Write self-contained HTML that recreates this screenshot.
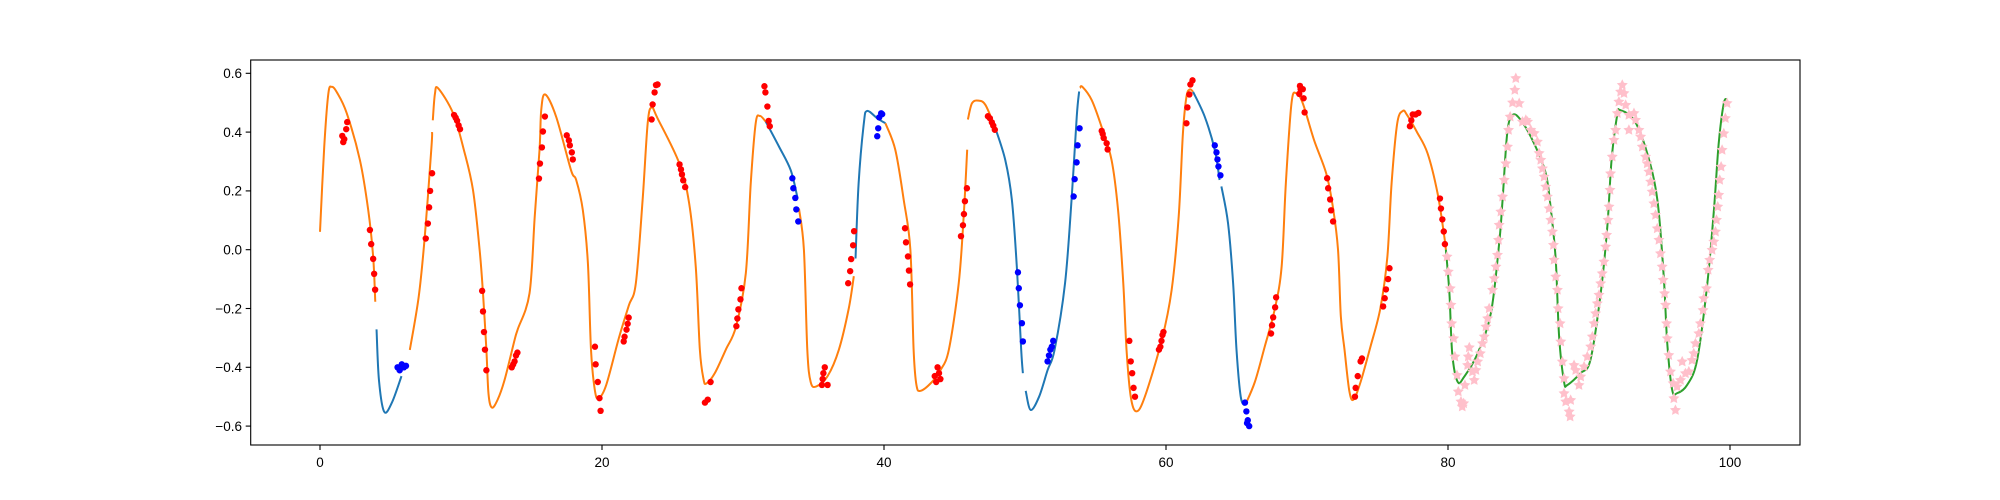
<!DOCTYPE html>
<html><head><meta charset="utf-8"><style>
html,body{margin:0;padding:0;background:#fff;}
svg{display:block;font-family:"Liberation Sans","DejaVu Sans",sans-serif;}
</style></head><body>
<svg id="chart" width="2000" height="500" viewBox="0 0 2000 500" xmlns="http://www.w3.org/2000/svg">
<rect x="0" y="0" width="2000" height="500" fill="#fff"/>
<g id="plot"></g>
<rect x="250.7" y="60" width="1549.3" height="385" fill="none" stroke="#000" stroke-width="1.1"/>
<g id="xaxis"></g>
<g id="yaxis"></g>
</svg>
<script>
const xTicks = [0, 20, 40, 60, 80, 100];
const yTicks = [-0.6, -0.4, -0.2, 0.0, 0.2, 0.4, 0.6];
const yTickLabels = ["\u22120.6", "\u22120.4", "\u22120.2", "0.0", "0.2", "0.4", "0.6"];

const segColors = ["o","b","o","o","b","o","b","o","o","b","b","o","b","b","o","g"];
const segJoin   = [0,0,0,0,1,0,0,1,0,1,0,0,1,0,1,1];
const curveX = [0,0.3,0.59,0.83,1.2,1.89,2.83,3.42,3.77,3.92,
 4.01,4.18,4.55,5.1,5.78,
 6.37,7.0,7.43,7.9,7.95,
 8.0,8.15,8.38,9.44,10.2,10.85,11.32,11.56,11.8,11.95,12.19,12.6,13.09,13.8,14.03,14.86,15.23,15.57,15.69,15.97,16.75,17.8,18.17,18.64,19.0,19.22,19.5,19.77,20.3,21.2,21.9,22.4,22.88,23.24,23.52,23.94,25.48,26.18,26.65,26.94,27.2,27.4,28.0,28.78,29.5,30.2,30.55,30.9,31.19,31.61,
 32.55,33.38,33.85,
 33.97,34.32,34.56,34.8,35.2,36.0,36.8,37.5,37.86,
 37.98,38.2,38.57,38.8,39.52,40.1,
 40.8,41.4,41.87,42.1,42.3,42.6,43.4,44.0,44.6,45.3,45.65,45.9,
 45.95,46.24,46.7,47.2,47.9,
 48.6,49.07,49.42,49.73,49.85,
 50.05,50.4,51.0,51.6,52.1,52.84,53.3,53.67,53.84,
 53.9,54.07,54.73,55.43,56.14,56.6,56.97,57.2,57.5,57.9,58.5,59.7,60.4,60.9,61.2,61.45,61.69,61.92,
 62.75,63.46,63.8,
 63.93,64.4,64.76,65.0,65.3,65.6,
 66.3,67.0,67.7,68.2,68.5,68.9,69.24,69.7,70.5,71.36,71.83,72.2,72.4,72.66,73.0,73.3,73.8,74.5,75.2,75.7,76.0,76.4,76.8,77.1,77.8,78.55,79.26,79.74,79.85,
 80.1,80.3,80.68,81.15,82.1,83.04,83.63,83.87,84.2,84.57,85.16,86.1,86.93,87.3,87.64,87.88,88.23,88.47,89.4,90.1,90.83,91.3,91.6,92.0,92.2,93.2,94.13,94.85,95.3,95.55,95.9,96.25,96.96,97.67,98.37,98.86,99.2,99.56,99.8];
const curveY = [0.061,0.35,0.53,0.554,0.535,0.465,0.305,0.135,-0.024,-0.177,
 -0.271,-0.443,-0.551,-0.52,-0.43,
 -0.341,-0.16,0.044,0.346,0.4,
 0.44,0.53,0.549,0.464,0.34,0.203,0.0,-0.148,-0.34,-0.49,-0.537,-0.51,-0.443,-0.307,-0.27,-0.148,0.113,0.34,0.475,0.528,0.452,0.271,0.237,0.135,-0.046,-0.34,-0.48,-0.505,-0.46,-0.30,-0.19,-0.114,0.169,0.43,0.484,0.447,0.294,0.158,-0.058,-0.34,-0.44,-0.455,-0.42,-0.34,-0.262,-0.08,0.226,0.43,0.455,0.436,
 0.351,0.271,0.18,
 0.14,0.0,-0.34,-0.45,-0.465,-0.43,-0.34,-0.2,-0.09,
 -0.03,0.226,0.43,0.472,0.447,0.43,
 0.34,0.169,0.0,-0.34,-0.46,-0.48,-0.45,-0.41,-0.34,-0.114,0.113,0.34,
 0.443,0.498,0.507,0.492,0.413,
 0.305,0.169,-0.058,-0.34,-0.42,
 -0.48,-0.545,-0.5,-0.41,-0.34,-0.114,0.169,0.453,0.538,
 0.55,0.554,0.509,0.418,0.305,0.135,-0.114,-0.34,-0.5,-0.55,-0.5,-0.307,-0.137,0.113,0.396,0.52,0.545,0.537,
 0.452,0.339,0.237,
 0.215,0.09,-0.114,-0.34,-0.5,-0.53,
 -0.45,-0.33,-0.205,-0.058,0.226,0.498,0.532,0.498,0.373,0.26,0.147,0.0,-0.227,-0.34,-0.48,-0.51,-0.45,-0.33,-0.2,-0.024,0.226,0.43,0.472,0.458,0.4,0.328,0.192,0.044,0.0,
 -0.148,-0.353,-0.449,-0.432,-0.353,-0.216,0.022,0.169,0.396,0.458,0.441,0.362,0.26,0.135,-0.034,-0.295,-0.449,-0.46,-0.42,-0.375,-0.148,0.079,0.305,0.458,0.475,0.441,0.328,0.169,-0.091,-0.318,-0.477,-0.488,-0.46,-0.375,-0.125,0.135,0.362,0.498,0.51];
const segLengths = [10,5,5,50,3,9,6,12,5,5,9,18,3,6,29,39];

const redX = [1.58,1.65,1.72,1.86,1.93, 3.54,3.63,3.77,3.84,3.91, 7.5,7.65,7.74,7.81,7.95, 9.51,9.62,9.72,9.83,9.93,
 11.5,11.56,11.63,11.7,11.8, 13.6,13.7,13.8,13.9,14.0, 15.53,15.6,15.74,15.81,15.95, 17.5,17.65,17.72,17.86,17.93,
 19.5,19.55,19.7,19.82,19.9, 21.54,21.6,21.74,21.82,21.89, 23.52,23.59,23.73,23.83,23.94, 25.5,25.6,25.67,25.76,25.9,
 27.3,27.5,27.7, 29.53,29.6,29.67,29.82,29.89, 31.52,31.59,31.73,31.82,31.9, 35.6,35.65,35.7,35.8,36.0,
 37.46,37.6,37.67,37.81,37.88, 41.49,41.56,41.7,41.77,41.85, 43.6,43.7,43.8,43.9,44.0, 45.46,45.6,45.67,45.74,45.88,
 47.37,47.51,47.65,47.75,47.86, 55.44,55.51,55.58,55.79,55.86, 57.4,57.5,57.6,57.7,57.8, 59.5,59.6,59.68,59.75,59.82,
 61.45,61.52,61.66,61.73,61.88, 67.45,67.52,67.6,67.74,67.81, 69.45,69.5,69.55,69.7,69.76,69.83, 71.43,71.5,71.64,71.71,71.85,
 73.4,73.45,73.6,73.8,73.9, 75.4,75.51,75.6,75.75,75.85, 77.3,77.4,77.5,77.7,77.9, 79.43,79.5,79.6,79.7,79.78];
const redY = [0.387,0.366,0.376,0.41,0.434, 0.067,0.019,-0.031,-0.082,-0.136, 0.038,0.089,0.144,0.2,0.26, 0.458,0.449,0.439,0.423,0.41,
 -0.14,-0.21,-0.28,-0.34,-0.41, -0.40,-0.39,-0.38,-0.36,-0.35, 0.242,0.293,0.348,0.402,0.453, 0.389,0.372,0.355,0.331,0.307,
 -0.33,-0.39,-0.45,-0.505,-0.548, -0.312,-0.296,-0.272,-0.252,-0.231, 0.443,0.494,0.535,0.56,0.562, 0.29,0.273,0.256,0.236,0.213,
 -0.52,-0.51,-0.45, -0.26,-0.234,-0.203,-0.169,-0.131, 0.556,0.535,0.487,0.438,0.42, -0.46,-0.44,-0.42,-0.40,-0.46,
 -0.114,-0.073,-0.032,0.015,0.063, 0.073,0.025,-0.023,-0.071,-0.118, -0.43,-0.45,-0.40,-0.42,-0.44, 0.046,0.083,0.121,0.165,0.209,
 0.454,0.447,0.433,0.422,0.408, 0.404,0.394,0.38,0.362,0.341, -0.31,-0.38,-0.42,-0.47,-0.5, -0.34,-0.33,-0.31,-0.29,-0.28,
 0.43,0.484,0.528,0.562,0.576, -0.285,-0.257,-0.23,-0.196,-0.162, 0.53,0.557,0.546,0.546,0.515,0.467, 0.243,0.209,0.171,0.134,0.096,
 -0.5,-0.47,-0.43,-0.38,-0.37, -0.193,-0.165,-0.135,-0.1,-0.063, 0.42,0.44,0.46,0.46,0.465, 0.174,0.14,0.103,0.062,0.019];

const blueX = [5.5,5.65,5.8,5.95,6.1, 33.5,33.57,33.71,33.78,33.92, 39.52,39.59,39.66,39.8,39.87, 49.5,49.56,49.64,49.78,49.85,
 51.6,51.7,51.8,51.9,52.0, 53.45,53.52,53.66,53.73,53.87, 63.46,63.58,63.65,63.72,63.86, 65.6,65.7,65.75,65.8,65.9];
const blueY = [-0.40,-0.41,-0.39,-0.40,-0.395, 0.243,0.209,0.176,0.137,0.096, 0.386,0.413,0.45,0.464,0.461, -0.077,-0.131,-0.189,-0.25,-0.312,
 -0.38,-0.36,-0.34,-0.33,-0.31, 0.181,0.24,0.297,0.355,0.413, 0.355,0.331,0.307,0.283,0.253, -0.52,-0.55,-0.59,-0.58,-0.6];

const starX = [79.93,80.02,80.16,80.21,80.26,80.40,80.49,80.64,80.73,80.92,81.01,81.11,81.20,81.39,81.51,81.44,81.74,81.86,81.98,82.10,82.29,82.45,82.57,82.69,82.81,82.92,83.16,83.28,83.40,83.51,83.58,83.63,83.75,83.87,83.99,84.10,84.22,84.29,84.41,84.58,84.74,84.81,85.05,85.28,85.52,85.64,85.87,86.11,86.34,86.46,86.58,86.70,86.82,86.93,87.05,87.17,87.29,87.41,87.48,87.52,87.64,87.76,87.81,87.95,88.00,88.11,88.23,88.23,88.35,88.70,88.59,88.66,88.94,89.06,89.29,89.41,89.65,89.88,90.12,90.24,90.36,90.47,90.59,90.71,90.83,90.94,91.06,91.18,91.25,91.35,91.42,91.49,91.53,91.65,91.77,91.89,92.01,92.12,92.24,92.36,92.48,92.60,92.83,93.19,93.30,92.83,93.54,93.66,93.78,94.01,94.13,94.25,94.37,94.48,94.60,94.72,94.84,94.96,95.07,95.19,95.26,95.36,95.43,95.50,95.55,95.66,95.78,95.97,96.02,96.13,96.25,96.49,96.61,96.84,97.08,97.31,97.43,97.55,97.79,97.90,98.09,98.14,98.33,98.45,98.56,98.73,98.85,98.97,99.04,99.13,99.20,99.27,99.37,99.44,99.56,99.67,99.79];
const starY = [-0.024,-0.075,-0.132,-0.188,-0.251,-0.302,-0.364,-0.427,-0.483,-0.517,-0.534,-0.523,-0.461,-0.393,-0.333,-0.364,-0.415,-0.444,-0.410,-0.381,-0.353,-0.319,-0.296,-0.262,-0.234,-0.200,-0.137,-0.098,-0.058,-0.018,0.033,0.084,0.129,0.180,0.237,0.293,0.350,0.407,0.452,0.500,0.543,0.583,0.498,0.435,0.441,0.435,0.407,0.396,0.367,0.328,0.305,0.276,0.248,0.214,0.180,0.140,0.101,0.061,0.016,-0.035,-0.092,-0.137,-0.200,-0.251,-0.313,-0.381,-0.438,-0.489,-0.517,-0.512,-0.551,-0.568,-0.393,-0.410,-0.461,-0.432,-0.398,-0.364,-0.330,-0.296,-0.251,-0.217,-0.183,-0.154,-0.115,-0.081,-0.041,0.010,0.050,0.101,0.146,0.203,0.259,0.316,0.373,0.407,0.464,0.503,0.537,0.560,0.532,0.492,0.458,0.464,0.441,0.407,0.407,0.384,0.350,0.316,0.293,0.265,0.231,0.197,0.157,0.118,0.072,0.033,-0.013,-0.058,-0.103,-0.149,-0.188,-0.251,-0.302,-0.359,-0.415,-0.455,-0.506,-0.546,-0.466,-0.444,-0.381,-0.421,-0.415,-0.376,-0.353,-0.319,-0.285,-0.251,-0.206,-0.166,-0.132,-0.069,-0.035,-0.001,0.027,0.061,0.101,0.146,0.186,0.237,0.282,0.339,0.395,0.447,0.498];

const NS = "http://www.w3.org/2000/svg";
const X0 = 320, XS = 14.1, Y0 = 249.7, YS = 294;
function sx(v){ return X0 + v * XS; }
function sy(v){ return Y0 - v * YS; }
const colorMap = {o:"#ff7f0e", b:"#1f77b4", g:"#2ca02c"};
const plot = document.getElementById("plot");

function smoothPath(pts){
  let d = "M" + pts[0][0].toFixed(2) + "," + pts[0][1].toFixed(2);
  for (let i = 0; i < pts.length - 1; i++){
    const p0 = pts[Math.max(0,i-1)], p1 = pts[i], p2 = pts[i+1], p3 = pts[Math.min(pts.length-1,i+2)];
    const c1x = p1[0] + (p2[0]-p0[0])/6, c1y = p1[1] + (p2[1]-p0[1])/6;
    const c2x = p2[0] - (p3[0]-p1[0])/6, c2y = p2[1] - (p3[1]-p1[1])/6;
    d += "C" + c1x.toFixed(2)+","+c1y.toFixed(2)+" "+c2x.toFixed(2)+","+c2y.toFixed(2)+" "+p2[0].toFixed(2)+","+p2[1].toFixed(2);
  }
  return d;
}

let idx = 0;
for (let s = 0; s < segLengths.length; s++){
  const pts = [];
  if (segJoin[s] && idx > 0) pts.push([sx(curveX[idx-1]), sy(curveY[idx-1])]);
  for (let k = 0; k < segLengths[s]; k++){ pts.push([sx(curveX[idx]), sy(curveY[idx])]); idx++; }
  const p = document.createElementNS(NS, "path");
  p.setAttribute("d", smoothPath(pts));
  p.setAttribute("fill", "none");
  p.setAttribute("stroke", colorMap[segColors[s]]);
  p.setAttribute("stroke-width", "2");
  p.setAttribute("stroke-linejoin", "round");
  
  
  plot.appendChild(p);
}

function starPoints(cx, cy, R){
  const r = R * 0.5; let out = [];
  for (let i = 0; i < 10; i++){
    const a = -Math.PI/2 + i * Math.PI/5, rr = i % 2 ? r : R;
    out.push((cx + rr*Math.cos(a)).toFixed(2) + "," + (cy + rr*Math.sin(a)).toFixed(2));
  }
  return out.join(" ");
}
for (let i = 0; i < starX.length; i++){
  const st = document.createElementNS(NS, "polygon");
  st.setAttribute("points", starPoints(sx(starX[i]), sy(starY[i]), 5.8));
  st.setAttribute("fill", "#ffc0cb");
  
  
  plot.appendChild(st);
}
for (let i = 0; i < redX.length; i++){
  const c = document.createElementNS(NS, "circle");
  c.setAttribute("cx", sx(redX[i])); c.setAttribute("cy", sy(redY[i])); c.setAttribute("r", "3.2");
  c.setAttribute("fill", "#ff0000");
  
  
  plot.appendChild(c);
}
for (let i = 0; i < blueX.length; i++){
  const c = document.createElementNS(NS, "circle");
  c.setAttribute("cx", sx(blueX[i])); c.setAttribute("cy", sy(blueY[i])); c.setAttribute("r", "3.2");
  c.setAttribute("fill", "#0000ff");
  
  
  plot.appendChild(c);
}

const xa = document.getElementById("xaxis");
for (let i = 0; i < xTicks.length; i++){
  const x = sx(xTicks[i]);
  const t = document.createElementNS(NS, "line");
  t.setAttribute("x1", x); t.setAttribute("x2", x); t.setAttribute("y1", 445); t.setAttribute("y2", 450);
  t.setAttribute("stroke", "#000"); t.setAttribute("stroke-width", "1.1");
  
  
  xa.appendChild(t);
  const l = document.createElementNS(NS, "text");
  l.setAttribute("x", x); l.setAttribute("y", 467); l.setAttribute("text-anchor", "middle");
  l.setAttribute("font-size", "13.5"); l.textContent = String(xTicks[i]);
  
  
  xa.appendChild(l);
}
const ya = document.getElementById("yaxis");
for (let i = 0; i < yTicks.length; i++){
  const y = sy(yTicks[i]);
  const t = document.createElementNS(NS, "line");
  t.setAttribute("x1", 245.7); t.setAttribute("x2", 250.7); t.setAttribute("y1", y); t.setAttribute("y2", y);
  t.setAttribute("stroke", "#000"); t.setAttribute("stroke-width", "1.1");
  
  
  ya.appendChild(t);
  const l = document.createElementNS(NS, "text");
  l.setAttribute("x", 242); l.setAttribute("y", y + 4.8); l.setAttribute("text-anchor", "end");
  l.setAttribute("font-size", "13.5"); l.textContent = yTickLabels[i];
  
  
  ya.appendChild(l);
}
</script>
</body></html>
